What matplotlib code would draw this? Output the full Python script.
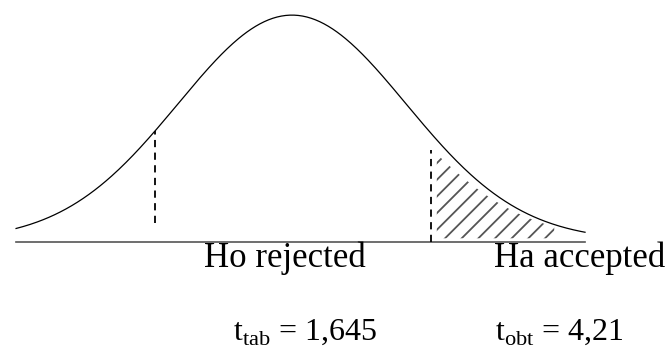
import numpy as np
import matplotlib
matplotlib.use("Agg")
import matplotlib.pyplot as plt

# bell curve, x in standard units
mean = 0.0
sd = 1.0
x_start, x_end = -2.42, 2.57
left_line = -1.20      # dashed line left
right_line = 1.22      # dashed line right (start of the hatched tail)
hatch_end = 2.30
labels = ["Ho rejected", "Ha accepted"]
t_tab = "1,645"
t_obt = "4,21"

plt.rcParams['font.family'] = ['Liberation Serif', 'DejaVu Serif']
plt.rcParams['mathtext.fontset'] = 'custom'
plt.rcParams['mathtext.rm'] = 'Liberation Serif'
plt.rcParams['hatch.linewidth'] = 1.3
plt.rcParams['hatch.color'] = '#555555'

def bell(x):
    return np.exp(-0.5 * ((x - mean) / sd) ** 2)

fig = plt.figure(figsize=(6.67, 3.51), dpi=100)
ax = fig.add_axes([0, 0, 1, 1])
ax.set_xlim(-2.561, 3.289)
ax.set_ylim(-0.49, 1.067)
ax.axis('off')

xs = np.linspace(x_start, x_end, 400)
ax.plot(xs, bell(xs), color='black', lw=0.9)
ax.plot([x_start, x_end], [-0.005, -0.005], color='#555555', lw=1.2)

# dashed lines
ax.plot([left_line, left_line], [0.08, bell(left_line)], color='black', lw=1.3, ls=(0, (4, 3)))
ax.plot([right_line, right_line], [-0.005, 0.40], color='black', lw=1.3, ls=(0, (4, 3)))

# hatched tail
xh = np.linspace(right_line + 0.05, hatch_end, 200)
ax.fill_between(xh, 0.01, bell(xh) * 0.86, facecolor='none', edgecolor='#555555',
                hatch='//', lw=0)

ax.text(-0.061, -0.117, labels[0], fontsize=25, ha='center', va='baseline')
ax.text(3.27, -0.117, labels[1], fontsize=25, ha='right', va='baseline')
ax.text(-0.518, -0.44, r'$\mathrm{t}_{\mathrm{tab}}$ = ' + t_tab, fontsize=23, ha='left', va='baseline')
ax.text(1.78, -0.44, r'$\mathrm{t}_{\mathrm{obt}}$ = ' + t_obt, fontsize=23, ha='left', va='baseline')

fig.savefig('out.png', dpi=100)
